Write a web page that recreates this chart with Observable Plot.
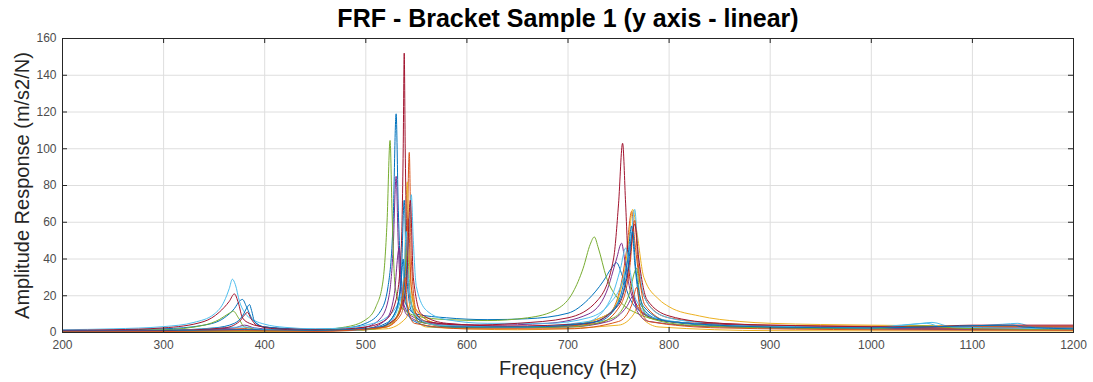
<!DOCTYPE html>
<html><head><meta charset="utf-8">
<script src="https://cdn.jsdelivr.net/npm/d3@7"></script>
<script src="https://cdn.jsdelivr.net/npm/@observablehq/plot@0.6"></script>
<style>body{margin:0;background:#fff;font-family:"Liberation Sans",Arial,sans-serif;}</style>
</head><body><div id="chart"></div>
<script>
const title = "FRF - Bracket Sample 1 (y axis - linear)";
const xLabel = "Frequency (Hz)";
const yLabel = "Amplitude Response (m/s2/N)";
const xTicks = [200, 300, 400, 500, 600, 700, 800, 900, 1000, 1100, 1200];
const yTicks = [0, 20, 40, 60, 80, 100, 120, 140, 160];
const lineColors = ["#0072BD", "#D95319", "#EDB120", "#7E2F8E", "#77AC30", "#4DBEEE", "#A2142F"];

// [frequency Hz, amplitude m/s2/N]
const s01 = [[200,1],[300,2],[340,4],[360,8],[370,13],[375,17],[378,18],[382,14],[388,7],[400,3],[450,1.8],[480,2.5],[500,5],[515,12],[522,25],[527,60],[530,119],[532,70],[535,30],[540,15],[550,10],[580,8],[620,7],[660,7.5],[700,10.5],[720,18],[735,28],[743,35],[748,38],[753,32],[760,20],[770,12],[790,7],[850,4],[900,3],[1000,2.5],[1100,2],[1200,2]];
const s02 = [[200,0.5],[300,0.8],[380,2],[400,1.2],[480,1],[520,3],[535,10],[540,30],[543,98],[545,40],[550,12],[570,5],[620,3],[700,4],[740,10],[752,25],[758,45],[763,66],[766,50],[772,25],[785,12],[800,8],[850,5],[900,4],[1000,3.5],[1100,3.5],[1200,3.5]];
const s03 = [[200,0.4],[300,0.7],[380,1.5],[400,1],[480,1],[520,3],[533,10],[538,30],[541,82],[543,40],[548,14],[570,5],[620,3],[700,4],[740,10],[755,30],[760,50],[764,67],[768,55],[775,30],[790,18],[800,14],[830,9],[870,6],[900,5],[1000,4],[1100,3.5],[1200,3]];
const s04 = [[200,1],[300,1.2],[370,2.5],[380,4],[390,2.5],[420,1.5],[480,1.8],[500,3],[515,8],[523,20],[527,45],[530,85],[532,50],[535,20],[545,9],[570,5],[620,4],[680,5],[720,10],[738,22],[748,40],[753,48.6],[756,40],[762,22],[775,10],[800,6],[850,4],[900,3],[1000,2.5],[1100,2.5],[1200,2]];
const s05 = [[200,0.8],[300,1.5],[340,4],[355,7],[365,10.5],[369,11.6],[374,8],[380,3],[400,1.5],[450,1.5],[480,3],[500,7],[510,14],[517,28],[521,60],[524,104.5],[526,65],[529,25],[535,14],[550,9],[580,7],[620,6.5],[660,8],[690,13],[705,22],[715,35],[722,48],[726,52],[730,46],[738,30],[750,18],[770,10],[800,6],[850,4],[900,3],[1000,3],[1050,3.5],[1100,2.5],[1200,2]];
const s06 = [[200,1.5],[250,2],[300,3.2],[330,5.5],[350,10],[360,17],[365,24],[368,29],[371,26],[375,17],[380,11],[390,6.5],[400,4.5],[420,2.8],[450,2],[480,2.5],[500,4],[520,8],[535,20],[540,35],[543,55],[545,75],[547,50],[550,25],[560,12],[580,7],[620,5],[680,5],[720,8],[740,15],[755,30],[762,50],[766,67],[769,45],[775,20],[790,10],[820,6],[880,4],[950,3],[1000,3],[1040,4.5],[1055,5],[1070,3],[1130,4.5],[1145,5],[1160,3],[1200,2.5]];
const s07 = [[200,1.2],[250,1.5],[300,2.5],[340,6],[355,11],[365,17],[370,21],[374,16],[378,8],[385,5],[400,3],[430,1.8],[460,1.5],[500,3],[520,7],[530,18],[535,45],[537,100],[538,152],[539,100],[541,40],[545,15],[560,6],[600,4],[650,5],[700,8],[730,18],[745,40],[750,70],[754,103],[757,70],[760,35],[768,15],[780,9],[800,6],[850,4.5],[900,3.5],[1000,3],[1100,3],[1200,3]];
const s08 = [[200,0.8],[300,1.2],[350,2.5],[370,5],[378,9],[383,14],[385,15.2],[387,12],[390,6],[400,3],[450,1.2],[500,2],[520,5],[530,12],[535,30],[538,72],[540,35],[545,12],[560,5],[600,3],[680,3],[720,5],[740,10],[752,20],[759,40],[763,58],[766,38],[772,15],[790,7],[850,3.5],[900,2.5],[1000,2],[1100,1.5],[1200,1.5]];
const s09 = [[200,0.3],[300,0.5],[380,2],[385,3],[390,1.5],[450,0.8],[510,2],[530,8],[538,25],[542,62],[545,25],[552,8],[580,3],[650,2.5],[730,5],[752,15],[761,35],[766,61],[769,40],[776,15],[800,6],[900,3],[1000,2.5],[1200,2]];
const s10 = [[200,0.2],[300,0.3],[400,0.5],[520,2],[540,8],[546,20],[549,8],[560,3],[650,1.5],[750,4],[765,10],[770,15],[773,8],[790,3],[900,1],[1200,0.8]];
const s11 = [[200,0.7],[300,1],[380,1.5],[450,1],[500,2],[520,7],[528,20],[533,46],[535,25],[540,10],[560,5],[620,3],[700,3],[740,6],[758,14],[765,20],[768,12],[780,6],[850,3],[1000,2],[1200,1.5]];
const s12 = [[200,0.5],[300,0.6],[400,0.8],[500,1.5],[525,5],[536,18],[541,45],[544,20],[552,6],[600,2.5],[700,3],[745,8],[760,20],[768,35],[771,20],[780,8],[820,4],[900,2.5],[1000,2],[1050,3.5],[1100,2],[1200,1.5]];
const s13 = [[200,0.5],[300,0.8],[380,3],[400,1.5],[480,1],[520,4],[533,15],[538,35],[540,55],[542,30],[548,10],[570,4],[650,3],[720,6],[742,18],[752,35],[757,46],[760,38],[767,18],[785,8],[850,4],[950,3],[1000,2.5],[1050,5],[1060,5.5],[1080,3],[1200,2]];
const s14 = [[200,0.6],[300,1],[360,2.5],[375,6],[380,9.5],[383,11],[386,8],[392,4],[410,2],[460,1],[510,2.5],[530,8],[540,25],[544,72],[547,30],[555,10],[580,5],[640,3.5],[720,5],[750,15],[760,35],[766,59],[770,40],[778,18],[800,9],[850,5],[950,3.5],[1050,3],[1100,4],[1200,4]];
const s15 = [[200,0.6],[300,0.8],[380,1.5],[450,1],[515,3],[530,12],[535,28],[537,40],[539,20],[545,7],[570,3],[660,3],[730,6],[752,18],[760,38],[764,55],[767,35],[775,14],[800,6],[900,3],[1000,2.5],[1140,4],[1150,3],[1200,2]];
const s16 = [[200,0.4],[300,0.5],[380,1],[450,0.6],[520,3],[534,12],[539,30],[541,15],[548,5],[600,2],[700,2],[750,6],[763,15],[768,24.6],[771,14],[780,6],[850,2.5],[1000,1.5],[1200,1.2]];

const seriesList = [s01,s02,s03,s04,s05,s06,s07,s08,s09,s10,s11,s12,s13,s14,s15,s16];
const rows = seriesList.flatMap((s, i) => s.map(([f, a]) => ({series: i, f, a})));

const W = 1093, H = 382, mL = 62, mR = 20, mT = 38, mB = 50;
const frameH = H - mT - mB;

const chart = Plot.plot({
  width: W, height: H,
  marginLeft: mL, marginRight: mR, marginTop: mT, marginBottom: mB,
  style: {fontFamily: '"Liberation Sans", Arial, sans-serif', background: "#fff", overflow: "visible"},
  x: {domain: [200, 1200]},
  y: {domain: [0, 160]},
  color: {type: "ordinal", domain: d3.range(seriesList.length), range: lineColors},
  marks: [
    Plot.gridX(xTicks, {stroke: "#dedede", strokeOpacity: 1}),
    Plot.gridY(yTicks, {stroke: "#dedede", strokeOpacity: 1}),
    Plot.line(rows, {x: "f", y: "a", z: "series", stroke: "series", strokeWidth: 1, curve: "monotone-x"}),
    Plot.frame({stroke: "#262626", strokeWidth: 1}),
    Plot.tickX(xTicks, {x: d => d, insetTop: frameH - 5, stroke: "#262626"}),
    Plot.tickX(xTicks, {x: d => d, insetBottom: frameH - 5, stroke: "#262626"}),
    Plot.tickY(yTicks, {y: d => d, insetRight: W - mL - mR - 5, stroke: "#262626"}),
    Plot.tickY(yTicks, {y: d => d, insetLeft: W - mL - mR - 5, stroke: "#262626"}),
    Plot.axisX(xTicks, {anchor: "bottom", tickSize: 0, tickPadding: 8, fontSize: 12, fill: "#4d4d4d", label: null, tickFormat: d => String(d)}),
    Plot.axisY(yTicks, {anchor: "left", tickSize: 0, tickPadding: 6, fontSize: 12, fill: "#4d4d4d", label: null, tickFormat: d => String(d)}),
    Plot.text([title], {text: d => d, frameAnchor: "top", lineAnchor: "middle", dy: -20, fontSize: 25, fontWeight: "bold", fill: "#000"}),
    Plot.text([xLabel], {text: d => d, frameAnchor: "bottom", lineAnchor: "middle", dy: 36, fontSize: 20, fill: "#262626"}),
    Plot.text([yLabel], {text: d => d, frameAnchor: "left", textAnchor: "middle", lineAnchor: "middle", dx: -40, rotate: -90, fontSize: 20, fill: "#262626"})
  ]
});
document.getElementById("chart").appendChild(chart);
</script>
</body></html>
